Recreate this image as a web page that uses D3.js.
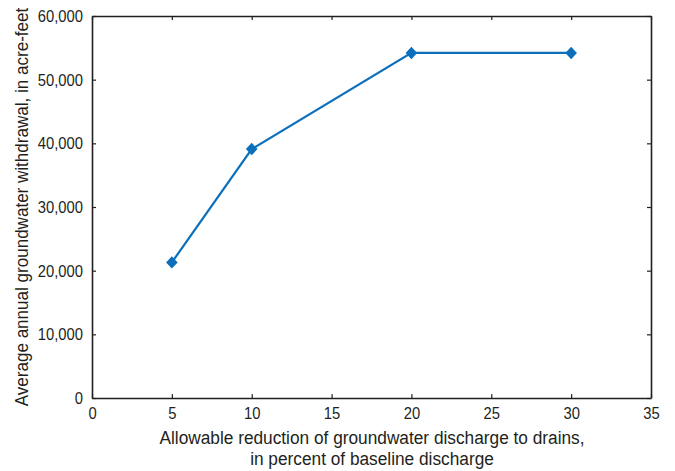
<!DOCTYPE html>
<html>
<head>
<meta charset="utf-8">
<script src="https://cdn.jsdelivr.net/npm/d3@7"></script>
<style>
  html, body { margin: 0; padding: 0; background: #fff; }
  svg text { font-family: "Liberation Sans", Arial, sans-serif; fill: #231f20; }
</style>
</head>
<body>
<svg id="chart" width="675" height="471"></svg>
<script>
// Allowable reduction of drain discharge (percent) vs. average annual withdrawal (acre-feet)
const reductionPct = [5, 10, 20, 30];
const withdrawalAcreFt = [21300, 39100, 54200, 54200];
const xTicks = [0, 5, 10, 15, 20, 25, 30, 35];
const yTicks = [0, 10000, 20000, 30000, 40000, 50000, 60000];

const svg = d3.select("#chart");
const margin = { left: 92, right: 24, top: 16, bottom: 73 };
const W = 675, H = 471;
const x = d3.scaleLinear().domain([0, 35]).range([margin.left, W - margin.right]);
const y = d3.scaleLinear().domain([0, 60000]).range([H - margin.bottom, margin.top]);

const ink = "#231f20";
const blue = "#0b6fbc";
const fmt = d3.format(",");

// Horizontally narrow a text element without moving its anchor point
function condense(sel, sx) {
  sel.each(function () {
    const t = d3.select(this);
    const x0 = +t.attr("x") || 0;
    t.attr("x", x0 / sx).attr("transform", `scale(${sx},1)`);
  });
}

// Frame with inward ticks on all four sides
const axes = [
  { axis: d3.axisBottom(x).tickValues(xTicks).tickSizeInner(-4).tickSizeOuter(0).tickPadding(9), t: `translate(0,${y(0)})`, labels: true },
  { axis: d3.axisTop(x).tickValues(xTicks).tickSizeInner(-4).tickSizeOuter(0), t: `translate(0,${y(60000)})`, labels: false },
  { axis: d3.axisLeft(y).tickValues(yTicks).tickFormat(fmt).tickSizeInner(-4).tickSizeOuter(0).tickPadding(9), t: `translate(${x(0)},0)`, labels: true },
  { axis: d3.axisRight(y).tickValues(yTicks).tickSizeInner(-4).tickSizeOuter(0), t: `translate(${x(35)},0)`, labels: false }
];
axes.forEach(a => {
  const g = svg.append("g").attr("transform", a.t).call(a.axis);
  g.select(".domain").attr("stroke", ink).attr("stroke-width", 1.6);
  g.selectAll(".tick line").attr("stroke", ink).attr("stroke-width", 1.2);
  const txt = g.selectAll(".tick text")
    .style("font-size", "17.2px")
    .attr("fill", ink);
  if (a.labels) condense(txt, 0.86);
  else txt.style("display", "none");
});

// Data line
const line = d3.line().x((d, i) => x(reductionPct[i])).y(d => y(d));
svg.append("path")
  .datum(withdrawalAcreFt)
  .attr("fill", "none")
  .attr("stroke", blue)
  .attr("stroke-width", 2.2)
  .attr("d", line);

// Diamond markers
svg.selectAll(".marker")
  .data(withdrawalAcreFt)
  .join("path")
  .attr("class", "marker")
  .attr("transform", (d, i) => `translate(${x(reductionPct[i])},${y(d)})`)
  .attr("d", "M0,-6.2L5.8,0L0,6.2L-5.8,0Z")
  .attr("fill", blue);

// Axis titles
svg.append("text")
  .attr("transform", `translate(28,${(y(0) + y(60000)) / 2}) rotate(-90) scale(0.948,1)`)
  .attr("text-anchor", "middle")
  .style("font-size", "18px")
  .text("Average annual groundwater withdrawal, in acre-feet");

const xt = svg.append("g").attr("transform", "translate(372,0)");
const xtText = xt.append("text")
  .attr("text-anchor", "middle")
  .attr("transform", "scale(0.96,1)")
  .style("font-size", "18px");
xtText.append("tspan").attr("x", 0).attr("y", 444).text("Allowable reduction of groundwater discharge to drains,");
xtText.append("tspan").attr("x", 0).attr("y", 465).text("in percent of baseline discharge");
</script>
</body>
</html>
